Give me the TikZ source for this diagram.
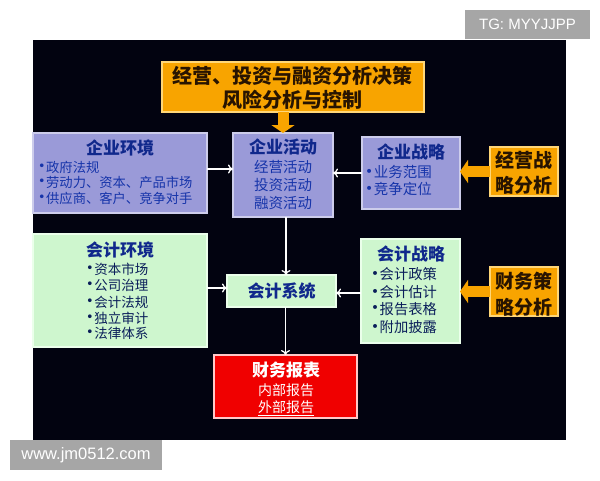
\documentclass[tikz,border=0pt]{standalone}
\usepackage{fontspec}
\usepackage{graphicx}
\setmainfont{Liberation Sans}
\newfontfamily\cjk{Noto Sans CJK SC}
\newfontfamily\dv{DejaVu Sans}
\usetikzlibrary{arrows.meta}
\definecolor{bgblack}{RGB}{2,3,16}
\definecolor{lavfill}{RGB}{154,154,216}
\definecolor{lavline}{RGB}{205,205,235}
\definecolor{grnfill}{RGB}{206,246,206}
\definecolor{grnline}{RGB}{235,255,235}
\definecolor{orgfill}{RGB}{248,164,0}
\definecolor{orgline}{RGB}{255,215,120}
\definecolor{redfill}{RGB}{240,0,0}
\definecolor{redline}{RGB}{255,200,200}
\definecolor{ttlblue}{RGB}{16,40,140}
\definecolor{lavtext}{RGB}{22,52,170}
\definecolor{grntext}{RGB}{10,30,90}
\definecolor{orgtext}{RGB}{40,20,0}
\definecolor{wmgray}{RGB}{166,166,166}
\newcommand\bul{\raisebox{0.1em}{\scalebox{0.95}{\dv •}}\hspace{0.5pt}}
\newcommand\fs[1]{\fontsize{#1}{#1}\selectfont}
\begin{document}
\begin{tikzpicture}[x=1pt,y=-1pt,
  box/.style={draw, line width=1.2pt, inner sep=0pt, outer sep=0pt},
  lavbox/.style={box, fill=lavfill, draw=lavline},
  grnbox/.style={box, fill=grnfill, draw=grnline},
  orgbox/.style={box, fill=orgfill, draw=orgline},
  redbox/.style={box, fill=redfill, draw=redline},
  ttl/.style={font=\cjk\bfseries\fs{17}, text=ttlblue, inner sep=0pt},
  lavtxt/.style={font=\cjk\fs{14}, text=lavtext, inner sep=0pt},
  grntxt/.style={font=\cjk\fs{13.5}, text=grntext, inner sep=0pt},
  orgtxt/.style={font=\cjk\bfseries\fs{19}, text=orgtext, inner sep=0pt},
  warrow/.style={draw=white, line width=1.3pt, -{To[length=5pt,width=9pt]}},
  oarrow/.style={draw=orgfill, line width=11pt, -{Triangle[width=23pt,length=8pt]}},
  wm/.style={fill=wmgray, text=white, inner sep=0pt}
]
\useasboundingbox (0,0) rectangle (600,480);
\fill[white] (0,0) rectangle (600,480);
\fill[bgblack] (33,40) rectangle (566,440);
% watermarks
\node[wm, minimum width=125pt, minimum height=29pt, font=\fs{15}] (tg) at (527.5,24.5) {TG: MYYJJPP};
\node[wm, minimum width=152pt, minimum height=30pt, font=\fs{16.5}] (www) at (86,455) {www.jm0512.com};
% boxes
\node[orgbox, minimum width=262pt, minimum height=50pt] (top) at (293,87) {};
\node[lavbox, minimum width=174pt, minimum height=80pt] (env) at (120,173) {};
\node[lavbox, minimum width=100pt, minimum height=84pt] (act) at (283,175) {};
\node[lavbox, minimum width=98pt, minimum height=72pt] (strat) at (411,173) {};
\node[orgbox, minimum width=68pt, minimum height=49pt] (jy) at (524,171.5) {};
\node[grnbox, minimum width=174pt, minimum height=113pt] (accenv) at (120,290.5) {};
\node[grnbox, minimum width=109pt, minimum height=32pt] (sys) at (281.5,291) {};
\node[grnbox, minimum width=99pt, minimum height=104pt] (accstrat) at (410.5,291) {};
\node[orgbox, minimum width=68pt, minimum height=49pt] (cw) at (524,291.5) {};
\node[redbox, minimum width=143pt, minimum height=63pt] (rep) at (285.5,386.5) {};
% connectors
\draw[oarrow] (act.north |- top.south) -- (act.north);
\draw[oarrow] (jy.west) -- (jy.west -| strat.east);
\draw[oarrow] (cw.west) -- (cw.west -| accstrat.east);
\draw[warrow] ([yshift=4pt]env.east) -- ([yshift=4pt]env.east -| act.west);
\draw[warrow] (strat.west) -- (strat.west -| act.east);
\draw[warrow] ([xshift=3pt]act.south) -- ([xshift=3pt]act.south |- sys.north);
\draw[warrow] ([yshift=3pt]sys.west -| accenv.east) -- ([yshift=3pt]sys.west);
\draw[warrow] ([yshift=-2pt]sys.east -| accstrat.west) -- ([yshift=-2pt]sys.east);
\draw[warrow] (rep.north |- sys.south) -- (rep.north);
% top box text
\node[orgtxt, font=\cjk\bfseries\fs{20}] (t1) at (292,76) {经营、投资与融资分析决策};
\node[orgtxt, font=\cjk\bfseries\fs{20}] (t2) at (292,100) {风险分析与控制};
% enterprise environment
\node[ttl] (envt) at (120,148) {企业环境};
\node[lavtxt, font=\cjk\fs{13.3}, anchor=west] (env1) at (38,167) {\bul 政府法规};
\node[lavtxt, font=\cjk\fs{13.3}, anchor=west] (env2) at (38,182) {\bul 劳动力、资本、产品市场};
\node[lavtxt, font=\cjk\fs{13.3}, anchor=west] (env3) at (38,198) {\bul 供应商、客户、竞争对手};
% enterprise activities
\node[ttl] (actt) at (283,147) {企业活动};
\node[lavtxt, font=\cjk\fs{14.5}] (act1) at (283,167) {经营活动};
\node[lavtxt, font=\cjk\fs{14.5}] (act2) at (283,185) {投资活动};
\node[lavtxt, font=\cjk\fs{14.5}] (act3) at (283,203) {融资活动};
% enterprise strategy
\node[ttl] (stratt) at (411,152) {企业战略};
\node[lavtxt, font=\cjk\fs{14.5}, anchor=west] (strat1) at (365,172) {\bul 业务范围};
\node[lavtxt, font=\cjk\fs{14.5}, anchor=west] (strat2) at (365,189) {\bul 竞争定位};
% business strategy analysis
\node[orgtxt] (jy1) at (524,160) {经营战};
\node[orgtxt] (jy2) at (524,185) {略分析};
% accounting environment
\node[ttl] (accenvt) at (120,250) {会计环境};
\node[grntxt, anchor=west] (ae1) at (86,269) {\bul 资本市场};
\node[grntxt, anchor=west] (ae2) at (86,285) {\bul 公司治理};
\node[grntxt, anchor=west] (ae3) at (86,302) {\bul 会计法规};
\node[grntxt, anchor=west] (ae4) at (86,318) {\bul 独立审计};
\node[grntxt, anchor=west] (ae5) at (86,333) {\bul 法律体系};
% accounting system
\node[ttl] (syst) at (281.5,291) {会计系统};
% accounting strategy
\node[ttl] (accstratt) at (411,254) {会计战略};
\node[grntxt, font=\cjk\fs{14.3}, anchor=west] (as1) at (371,274) {\bul 会计政策};
\node[grntxt, font=\cjk\fs{14.3}, anchor=west] (as2) at (371,292) {\bul 会计估计};
\node[grntxt, font=\cjk\fs{14.3}, anchor=west] (as3) at (371,309) {\bul 报告表格};
\node[grntxt, font=\cjk\fs{14.3}, anchor=west] (as4) at (371,327) {\bul 附加披露};
% financial strategy analysis
\node[orgtxt] (cw1) at (524,281) {财务策};
\node[orgtxt] (cw2) at (524,307) {略分析};
% financial statements
\node[ttl, text=white] (rept) at (286,370) {财务报表};
\node[lavtxt, text=white] (rep1) at (286,390) {内部报告};
\node[lavtxt, text=white] (rep2) at (286,408) {\underline{外部报告}};
\end{tikzpicture}
\end{document}
